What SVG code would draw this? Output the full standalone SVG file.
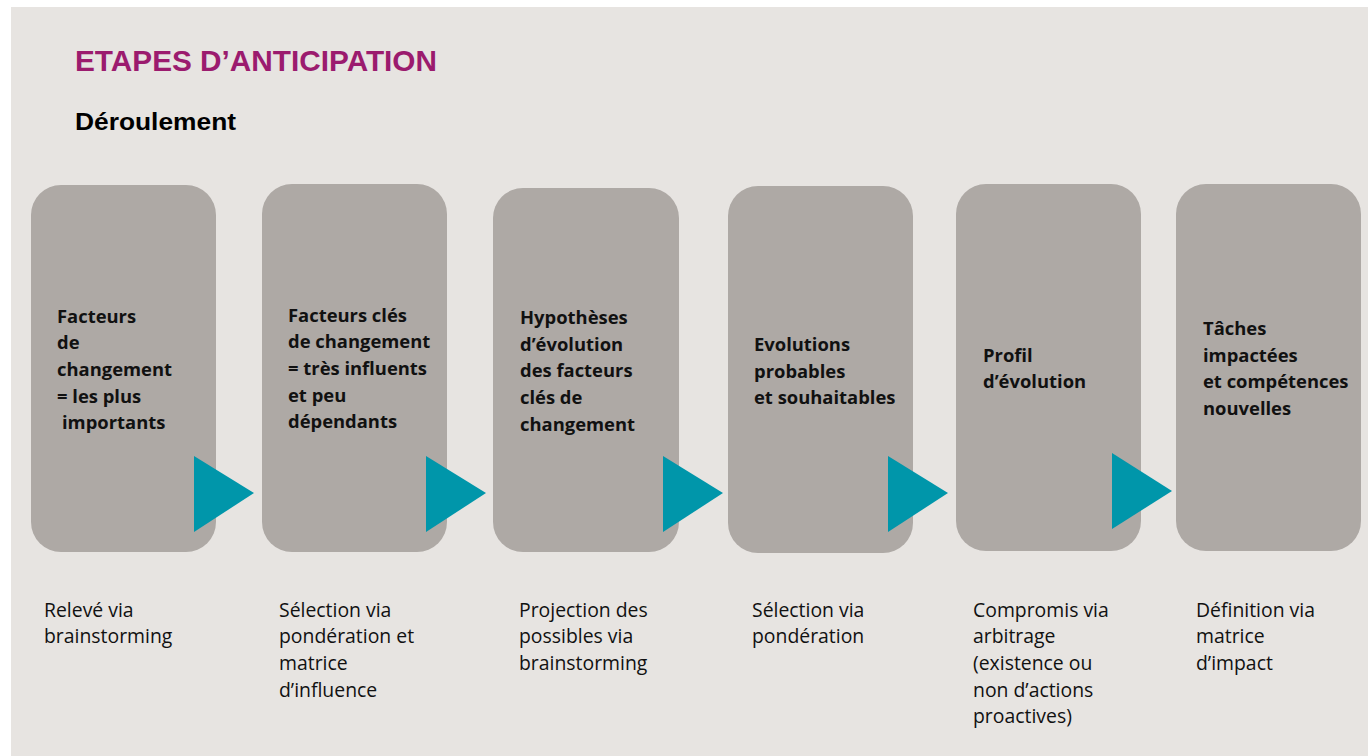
<svg xmlns="http://www.w3.org/2000/svg" width="1368" height="756" viewBox="0 0 1368 756">
<style>
.bg{fill:#e7e4e1}
.box{fill:#aea9a5}
.arrow{fill:#0096aa}
.title{font-family:"Liberation Sans",Arial,sans-serif;font-weight:bold;font-size:30px;fill:#9b1b6e}
.sub{font-family:"Liberation Sans",Arial,sans-serif;font-weight:bold;font-size:24px;fill:#000}
.lbl{font-family:"Open Sans","Liberation Sans",sans-serif;font-weight:bold;font-size:18.4px;fill:#111}
.cap{font-family:"Open Sans","Liberation Sans",sans-serif;font-size:19.4px;fill:#111}
</style>
<rect x="0" y="0" width="1368" height="756" fill="#ffffff"/>
<rect class="bg" x="11" y="7" width="1357" height="749"/>
<text class="title" x="75" y="71" textLength="362" lengthAdjust="spacingAndGlyphs">ETAPES D’ANTICIPATION</text>
<text class="sub" x="75" y="130" textLength="161" lengthAdjust="spacingAndGlyphs">Déroulement</text>

<g id="node1">
<rect class="box" x="31" y="185" width="185" height="367" rx="30"/>
<text class="lbl" x="57" y="322.7">Facteurs</text>
<text class="lbl" x="57" y="349.4">de</text>
<text class="lbl" x="57" y="376">changement</text>
<text class="lbl" x="57" y="402.7">= les plus</text>
<text class="lbl" x="62" y="429.4">importants</text>
<text class="cap" x="44" y="616.7">Relevé via</text>
<text class="cap" x="44" y="643.3">brainstorming</text>
</g>

<g id="node2">
<rect class="box" x="262" y="184" width="185" height="368" rx="30"/>
<text class="lbl" x="288" y="321.7">Facteurs clés</text>
<text class="lbl" x="288" y="348.4">de changement</text>
<text class="lbl" x="288" y="375">= très influents</text>
<text class="lbl" x="288" y="401.7">et peu</text>
<text class="lbl" x="288" y="428.4">dépendants</text>
<text class="cap" x="279" y="616.7">Sélection via</text>
<text class="cap" x="279" y="643.3">pondération et</text>
<text class="cap" x="279" y="670">matrice</text>
<text class="cap" x="279" y="696.7">d’influence</text>
</g>

<g id="node3">
<rect class="box" x="493" y="188" width="186" height="364" rx="30"/>
<text class="lbl" x="520" y="324">Hypothèses</text>
<text class="lbl" x="520" y="350.7">d’évolution</text>
<text class="lbl" x="520" y="377.3">des facteurs</text>
<text class="lbl" x="520" y="404">clés de</text>
<text class="lbl" x="520" y="430.7">changement</text>
<text class="cap" x="519" y="616.7">Projection des</text>
<text class="cap" x="519" y="643.3">possibles via</text>
<text class="cap" x="519" y="670">brainstorming</text>
</g>

<g id="node4">
<rect class="box" x="728" y="186" width="185" height="367" rx="30"/>
<text class="lbl" x="754" y="351">Evolutions</text>
<text class="lbl" x="754" y="377.6">probables</text>
<text class="lbl" x="754" y="404.3">et souhaitables</text>
<text class="cap" x="752" y="616.7">Sélection via</text>
<text class="cap" x="752" y="643.3">pondération</text>
</g>

<g id="node5">
<rect class="box" x="956" y="184" width="185" height="367" rx="30"/>
<text class="lbl" x="983" y="361.7">Profil</text>
<text class="lbl" x="983" y="388.3">d’évolution</text>
<text class="cap" x="973" y="616.7">Compromis via</text>
<text class="cap" x="973" y="643.3">arbitrage</text>
<text class="cap" x="973" y="670">(existence ou</text>
<text class="cap" x="973" y="696.7">non d’actions</text>
<text class="cap" x="973" y="723.3">proactives)</text>
</g>

<g id="node6">
<rect class="box" x="1176" y="184" width="185" height="367" rx="30"/>
<text class="lbl" x="1203" y="335">Tâches</text>
<text class="lbl" x="1203" y="361.7">impactées</text>
<text class="lbl" x="1203" y="388.3">et compétences</text>
<text class="lbl" x="1203" y="415">nouvelles</text>
<text class="cap" x="1196" y="616.7">Définition via</text>
<text class="cap" x="1196" y="643.3">matrice</text>
<text class="cap" x="1196" y="670">d’impact</text>
</g>

<g id="connectors">
<polygon class="arrow" points="194,456 254,493 194,532"/>
<polygon class="arrow" points="426,456 486,493 426,532"/>
<polygon class="arrow" points="663,456 723,493 663,532"/>
<polygon class="arrow" points="888,456 948,493 888,532"/>
<polygon class="arrow" points="1112,453 1172,491 1112,529"/>
</g>
</svg>
